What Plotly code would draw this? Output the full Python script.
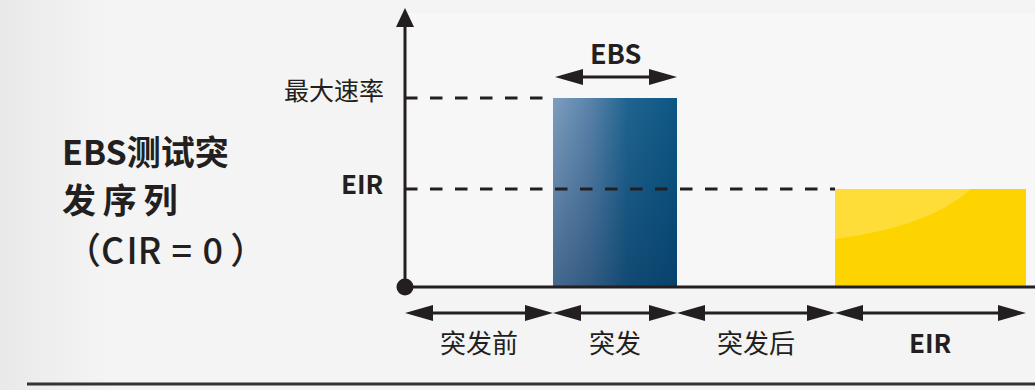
import plotly.graph_objects as go

# ---------------- data ----------------
segment_labels = ["突发前", "突发", "突发后", "EIR"]
segment_edges = [0.0, 1.48, 2.72, 4.30, 6.21]      # time axis boundaries
rate_labels = ["最大速率", "EIR"]
rate_values = [1.89, 0.98]                          # max rate, EIR
bar_segment_index = [1, 3]                          # burst bar, EIR bar
bar_heights = [1.89, 0.98]
burst_label = "EBS"
title_lines = ["EBS测试突", "发\u2009序\u2009列", "（C\u200aIR \u200a= \u200a0\u2009）"]

# ---------------- style ----------------
INK = "#231f20"
CJK = "Noto Sans CJK SC, Noto Sans, sans-serif"
X_RANGE = [-4.05, 6.30]
Y_RANGE = [-1.03, 2.87]
HEAD_L, HEAD_W = 0.28, 0.08
ARROW_Y = -0.26
EBS_ARROW_Y = 2.10
AXIS_TOP = 2.79

fig = go.Figure()
shapes = []

# background panels
fig.add_trace(go.Scatter(
    x=[X_RANGE[0], -3.0, -3.0, X_RANGE[0], X_RANGE[0]],
    y=[Y_RANGE[0], Y_RANGE[0], Y_RANGE[1], Y_RANGE[1], Y_RANGE[0]],
    fill="toself", mode="lines", line=dict(width=0),
    fillgradient=dict(type="horizontal",
                      colorscale=[[0, "#e9e9e9"], [1, "#f4f4f4"]]),
    hoverinfo="skip", showlegend=False))
shapes.append(dict(type="rect", xref="x", yref="y", layer="below",
                   x0=segment_edges[0], x1=X_RANGE[1], y0=0, y1=2.74,
                   fillcolor="#f7f7f7", line=dict(width=0)))


def tri(tip_x, tip_y, dx, dy, hw):
    """triangle with tip at (tip_x, tip_y), pointing along (dx, dy)."""
    if dx:
        pts = [(tip_x, tip_y), (tip_x - dx * HEAD_L, tip_y + hw), (tip_x - dx * HEAD_L, tip_y - hw)]
    else:
        pts = [(tip_x, tip_y), (tip_x + hw, tip_y - dy * 0.19), (tip_x - hw, tip_y - dy * 0.19)]
    path = "M " + " L ".join(f"{px},{py}" for px, py in pts) + " Z"
    return dict(type="path", xref="x", yref="y", path=path,
                fillcolor=INK, line=dict(width=0))


def double_arrow(a, b, y):
    out = [dict(type="line", xref="x", yref="y", x0=a + HEAD_L * 0.9, x1=b - HEAD_L * 0.9,
                y0=y, y1=y, line=dict(color=INK, width=3))]
    out.append(tri(a, y, -1, 0, HEAD_W))
    out.append(tri(b, y, 1, 0, HEAD_W))
    return out


# bars
colors_burst = [[0, "#7d9ebf"], [0.3, "#5a83aa"], [0.6, "#1f6590"], [1, "#0d5784"]]
for k, (si, h) in enumerate(zip(bar_segment_index, bar_heights)):
    x0, x1 = segment_edges[si], segment_edges[si + 1]
    xs = [x0, x1, x1, x0, x0]
    ys = [0, 0, h, h, 0]
    if k == 0:
        fig.add_trace(go.Scatter(x=xs, y=ys, fill="toself", mode="lines",
                                 line=dict(width=0),
                                 fillgradient=dict(type="horizontal", colorscale=colors_burst),
                                 hoverinfo="skip", showlegend=False))
        fig.add_trace(go.Scatter(x=xs, y=ys, fill="toself", mode="lines",
                                 line=dict(width=0),
                                 fillgradient=dict(type="vertical", start=0, stop=h,
                                                   colorscale=[[0, "rgba(0,40,80,0.45)"],
                                                               [1, "rgba(0,40,80,0)"]]),
                                 hoverinfo="skip", showlegend=False))
    else:
        fig.add_trace(go.Scatter(x=xs, y=ys, fill="toself", mode="lines",
                                 line=dict(width=0), fillcolor="#fed400",
                                 hoverinfo="skip", showlegend=False))
        # soft gloss in the upper-left of the EIR bar
        w = x1 - x0
        gloss = (f"M {x0},{h * 0.49} Q {x0 + 0.5 * w},{h * 0.62} {x0 + 0.71 * w},{h} "
                 f"L {x0},{h} Z")
        shapes.append(dict(type="path", xref="x", yref="y", path=gloss, layer="above",
                           fillcolor="rgba(255,255,255,0.22)", line=dict(width=0)))

# dashed reference lines (max rate ends at burst bar, EIR ends at EIR bar)
dash_ends = [segment_edges[bar_segment_index[0]] - 0.04, segment_edges[bar_segment_index[1]]]
for v, xe in zip(rate_values, dash_ends):
    fig.add_trace(go.Scatter(x=[segment_edges[0], xe], y=[v, v], mode="lines",
                             line=dict(color=INK, width=3, dash="12.5px,12.5px"),
                             hoverinfo="skip", showlegend=False))

# axes
shapes.append(dict(type="line", xref="x", yref="y", x0=segment_edges[0], x1=X_RANGE[1],
                   y0=0, y1=0, line=dict(color=INK, width=3)))
shapes.append(dict(type="line", xref="x", yref="y", x0=segment_edges[0], x1=segment_edges[0],
                   y0=0, y1=AXIS_TOP - 0.17, line=dict(color=INK, width=3)))
shapes.append(tri(segment_edges[0], AXIS_TOP, 0, 1, 0.09))

# segment arrows
for a, b in zip(segment_edges[:-1], segment_edges[1:]):
    shapes.extend(double_arrow(a, b, ARROW_Y))
# EBS arrow over burst bar
bi = bar_segment_index[0]
shapes.extend(double_arrow(segment_edges[bi] + 0.02, segment_edges[bi + 1], EBS_ARROW_Y))

# bottom rule
shapes.append(dict(type="line", xref="x", yref="y", x0=-3.78, x1=X_RANGE[1],
                   y0=-0.97, y1=-0.97, line=dict(color="#333333", width=3)))

# origin dot
fig.add_trace(go.Scatter(x=[segment_edges[0]], y=[0], mode="markers",
                         marker=dict(size=17, color=INK), hoverinfo="skip", showlegend=False))

ann = []
# segment labels
for lab, a, b in zip(segment_labels, segment_edges[:-1], segment_edges[1:]):
    latin = lab.isascii()
    ann.append(dict(x=(a + b) / 2, y=-0.54, text=lab, showarrow=False,
                    xanchor="center", yanchor="middle",
                    font=dict(family=CJK, size=26, color=INK,
                              weight="bold" if latin else "normal")))
# rate labels
rate_shift = [9, 7]
for lab, v, sh in zip(rate_labels, rate_values, rate_shift):
    latin = lab.isascii()
    ann.append(dict(x=-0.19, y=v, yshift=sh, text=lab, showarrow=False,
                    xanchor="right", yanchor="middle",
                    font=dict(family=CJK, size=26 if latin else 25, color=INK,
                              weight="bold" if latin else "normal")))
# EBS label
ann.append(dict(x=(segment_edges[bi] + segment_edges[bi + 1]) / 2, y=2.35, text=burst_label,
                showarrow=False, xanchor="center", yanchor="middle",
                font=dict(family=CJK, size=27, color=INK, weight="bold")))
# title block
title_y = [1.37, 0.89, 0.39]
title_x = [-3.45, -3.45, -3.42]
title_fonts = [
    dict(family=CJK, size=34, color=INK, weight="bold"),
    dict(family=CJK, size=34, color=INK, weight="bold"),
    dict(family=CJK, size=36, color=INK, weight=500),
]
for t, x, y, f in zip(title_lines, title_x, title_y, title_fonts):
    ann.append(dict(x=x, y=y, text=t, showarrow=False, xanchor="left",
                    yanchor="middle", font=f))

fig.update_layout(
    width=1035, height=390, margin=dict(l=0, r=0, t=0, b=0),
    paper_bgcolor="#f4f4f4", plot_bgcolor="#f4f4f4",
    xaxis=dict(range=X_RANGE, visible=False, fixedrange=True),
    yaxis=dict(range=Y_RANGE, visible=False, fixedrange=True),
    shapes=shapes, annotations=ann, showlegend=False,
)
fig.write_html("out.html")
